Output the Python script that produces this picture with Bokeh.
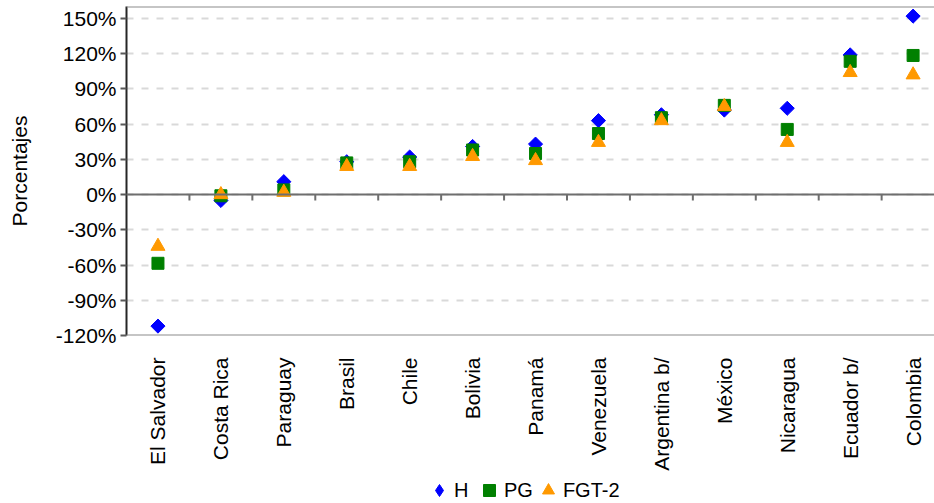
import math
from bokeh.plotting import figure
from bokeh.layouts import column
from bokeh.models import (Range1d, FixedTicker, Span, Legend, LegendItem,
                          ColumnDataSource)
from bokeh.embed import file_html
from bokeh.resources import INLINE

countries = ["El Salvador", "Costa Rica", "Paraguay", "Brasil", "Chile", "Bolivia",
             "Panamá", "Venezuela", "Argentina b/", "México", "Nicaragua",
             "Ecuador b/", "Colombia"]
H = [-112, -5, 11, 28, 32, 41, 43, 63, 68, 72, 73.5, 119, 152]
PG = [-58.5, -1, 4, 27, 28, 38, 35, 52, 65.5, 76, 55.5, 113.5, 118.5]
FGT2 = [-44, 0, 2, 24, 24, 32.5, 29, 44.5, 63, 75, 44.5, 104, 102]
series_names = ["H", "PG", "FGT-2"]
yticks = [-120, -90, -60, -30, 0, 30, 60, 90, 120, 150]
y_min, y_max = -120, 160.2

FONT = "Liberation Sans"
C_H, C_PG, C_FGT = "#0000FF", "#008000", "#FF9900"
xpos = [i + 0.5 for i in range(len(countries))]
bounds = list(range(1, len(countries)))

src = ColumnDataSource(dict(x=xpos, h=H, pg=PG, fgt=FGT2, name=countries))

p = figure(frame_width=808, frame_height=329, output_backend="svg", toolbar_location=None,
           x_range=Range1d(0, 12.84), y_range=Range1d(y_min, y_max),
           min_border_left=126, min_border_right=0, min_border_top=6,
           min_border_bottom=140)
p.outline_line_color = None
p.background_fill_color = "white"
p.border_fill_color = "white"

# grid
p.xgrid.grid_line_color = None
p.ygrid.ticker = FixedTicker(ticks=yticks)
p.ygrid.grid_line_color = "#d9d9d9"
p.ygrid.grid_line_dash = "7 8"
p.ygrid.grid_line_width = 2

# y axis
ya = p.yaxis[0]
ya.ticker = FixedTicker(ticks=yticks)
ya.major_label_overrides = {t: f"{t}%" for t in yticks}
ya.axis_line_color = "#262626"
ya.axis_line_width = 2
ya.major_tick_line_color = "#595959"
ya.major_tick_line_width = 2
ya.major_tick_in = 0
ya.major_tick_out = 6
ya.minor_tick_line_color = None
ya.major_label_standoff = 4
ya.major_label_text_font = FONT
ya.major_label_text_font_size = "21px"
ya.major_label_text_color = "black"
ya.axis_label = "Porcentajes"
ya.axis_label_text_font = FONT
ya.axis_label_text_font_size = "21px"
ya.axis_label_text_font_style = "normal"
ya.axis_label_text_color = "black"
ya.axis_label_standoff = 22

# x axis (category labels)
xa = p.xaxis[0]
xa.ticker = FixedTicker(ticks=xpos)
xa.major_label_overrides = {x: n for x, n in zip(xpos, countries)}
xa.major_label_orientation = math.pi / 2
xa.axis_line_color = None
xa.major_tick_line_color = None
xa.minor_tick_line_color = None
xa.major_label_standoff = 16
xa.major_label_text_font = FONT
xa.major_label_text_font_size = "21px"
xa.major_label_text_color = "black"

# frame top/bottom lines and zero line with category separators
p.add_layout(Span(location=y_min, dimension="width", line_color="#8c8c8c", line_width=2))
p.add_layout(Span(location=y_max, dimension="width", line_color="#8c8c8c", line_width=2))
p.add_layout(Span(location=0, dimension="width", line_color="#6e6e6e", line_width=2))
p.ray(x=bounds, y=[0] * len(bounds), length=6, length_units="screen",
      angle=-math.pi / 2, line_color="#6e6e6e", line_width=2)

p.scatter("x", "h", source=src, marker="square", angle=math.pi / 4, size=10,
          fill_color=C_H, line_color=C_H)
p.scatter("x", "pg", source=src, marker="square", size=12,
          fill_color=C_PG, line_color=C_PG)
p.scatter("x", "fgt", source=src, marker="triangle", size=14,
          fill_color=C_FGT, line_color=C_FGT)

# legend strip underneath (its renderers' points fall outside this strip's ranges)
lg = figure(frame_width=934, frame_height=30, output_backend="svg", toolbar_location=None,
            x_range=Range1d(0, 1), y_range=Range1d(0, 1),
            x_axis_type=None, y_axis_type=None,
            min_border_left=0, min_border_right=0, min_border_top=0, min_border_bottom=0)
lg.outline_line_color = None
lg.xgrid.grid_line_color = None
lg.ygrid.grid_line_color = None
lg.border_fill_color = "white"
l1 = lg.scatter("x", "h", source=src, marker="diamond", fill_color=C_H, line_color=C_H)
l2 = lg.scatter("x", "pg", source=src, marker="square", fill_color=C_PG, line_color=C_PG)
l3 = lg.scatter("x", "fgt", source=src, marker="triangle", fill_color=C_FGT, line_color=C_FGT)
legend = Legend(items=[LegendItem(label=series_names[0], renderers=[l1]),
                       LegendItem(label=series_names[1], renderers=[l2]),
                       LegendItem(label=series_names[2], renderers=[l3])],
                orientation="horizontal", location=(424, 0),
                label_text_font=FONT, label_text_font_size="20px",
                label_text_color="black", border_line_color=None,
                background_fill_alpha=0, glyph_width=30, glyph_height=30,
                label_height=30, label_standoff=0, spacing=0, padding=0, margin=0)
lg.add_layout(legend, "center")

layout = column(p, lg, spacing=0)
open("out.html", "w").write(file_html(layout, INLINE))
